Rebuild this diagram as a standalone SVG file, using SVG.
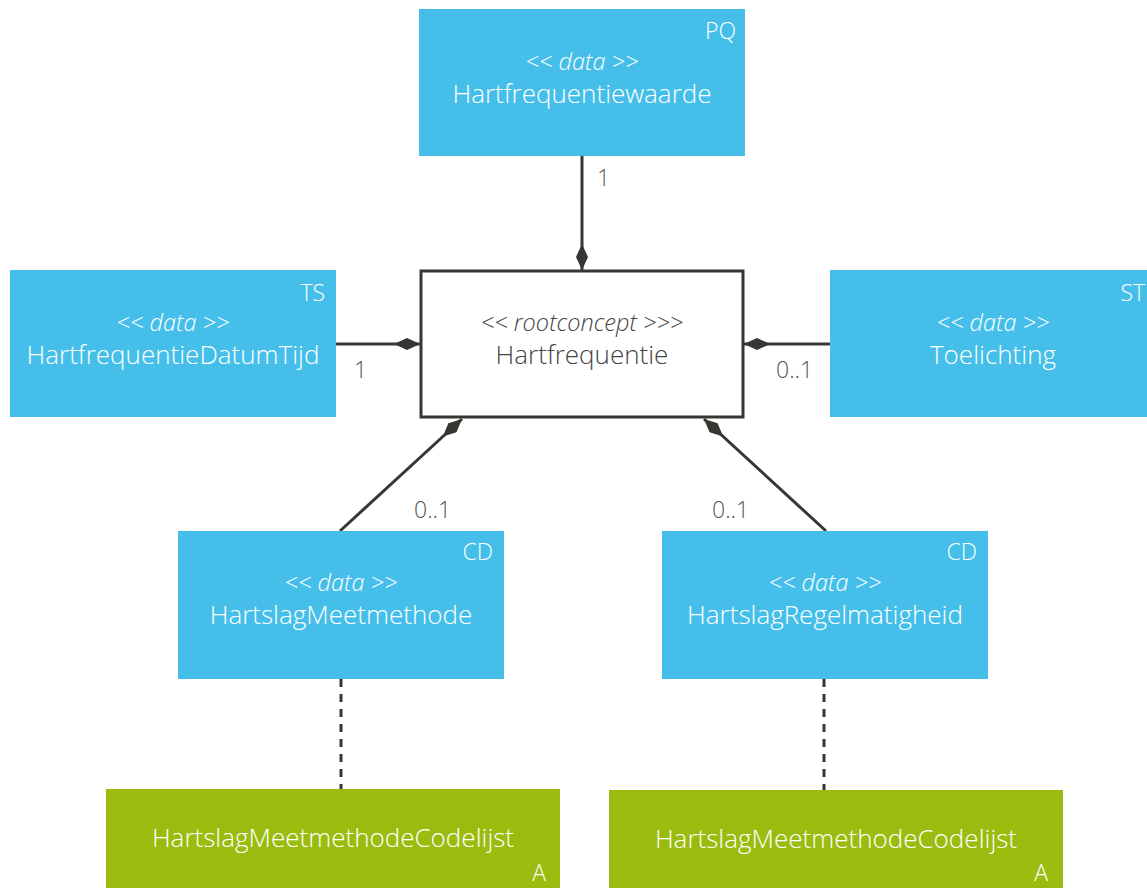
<svg xmlns="http://www.w3.org/2000/svg" width="1147" height="888" viewBox="0 0 1147 888">
  <style>
    .data { fill: #45BFE9; }
    .code { fill: #9ABC0E; }
    .root { fill: #ffffff; stroke: #363632; stroke-width: 3; }
    text { font-family: "Open Sans", "Lato", "Liberation Sans", sans-serif; font-weight: 300; }
    .st { font-size: 23.5px; font-style: italic; text-anchor: middle; }
    .nm { font-size: 26px; text-anchor: middle; }
    .tag { font-size: 23px; text-anchor: end; }
    .w { fill: #ffffff; }
    .d { fill: #444444; }
    .mult { font-size: 23px; fill: #555555; }
    .assoc { stroke: #363632; stroke-width: 3; fill: none; marker-start: url(#diamond); }
    .dep { stroke: #363632; stroke-width: 3; fill: none; stroke-dasharray: 8 7; }
  </style>
  <defs>
    <marker id="diamond" markerUnits="userSpaceOnUse" viewBox="0 0 26 12" refX="0" refY="6" markerWidth="26" markerHeight="12" orient="auto">
      <path d="M0,6 L13,0 L26,6 L13,12 Z" fill="#363632"/>
    </marker>
  </defs>

  <!-- connectors -->
  <g id="connectors">
    <path class="assoc" d="M582,270 L582,156"/>
    <path class="assoc" d="M420,344 L336,344"/>
    <path class="assoc" d="M744,344 L830,344"/>
    <path class="assoc" d="M462,419 L340,531"/>
    <path class="assoc" d="M704,419 L826,531"/>
    <path class="dep" d="M341,679 L341,789"/>
    <path class="dep" d="M824,679 L824,790"/>
    <text class="mult" x="597" y="186">1</text>
    <text class="mult" x="354" y="378">1</text>
    <text class="mult" x="776" y="378">0..1</text>
    <text class="mult" x="414" y="518">0..1</text>
    <text class="mult" x="712" y="518">0..1</text>
  </g>

  <!-- Hartfrequentiewaarde -->
  <g id="node-hartfrequentiewaarde">
    <rect class="data" x="419" y="9" width="326" height="147"/>
    <text class="tag w" x="736" y="39">PQ</text>
    <text class="st w" x="582" y="70">&lt;&lt; data &gt;&gt;</text>
    <text class="nm w" x="582" y="103">Hartfrequentiewaarde</text>
  </g>

  <!-- Hartfrequentie (root) -->
  <g id="node-hartfrequentie">
    <rect class="root" x="421" y="271" width="322" height="146"/>
    <text class="st d" x="582" y="331">&lt;&lt; rootconcept &gt;&gt;&gt;</text>
    <text class="nm d" x="582" y="364">Hartfrequentie</text>
  </g>

  <!-- HartfrequentieDatumTijd -->
  <g id="node-datumtijd">
    <rect class="data" x="10" y="270" width="326" height="147"/>
    <text class="tag w" x="325" y="301">TS</text>
    <text class="st w" x="173" y="331">&lt;&lt; data &gt;&gt;</text>
    <text class="nm w" x="173" y="364">HartfrequentieDatumTijd</text>
  </g>

  <!-- Toelichting -->
  <g id="node-toelichting">
    <rect class="data" x="830" y="270" width="326" height="147"/>
    <text class="tag w" x="1145" y="301">ST</text>
    <text class="st w" x="993" y="331">&lt;&lt; data &gt;&gt;</text>
    <text class="nm w" x="993" y="364">Toelichting</text>
  </g>

  <!-- HartslagMeetmethode -->
  <g id="node-meetmethode">
    <rect class="data" x="178" y="531" width="326" height="148"/>
    <text class="tag w" x="493" y="560">CD</text>
    <text class="st w" x="341" y="591">&lt;&lt; data &gt;&gt;</text>
    <text class="nm w" x="341" y="624">HartslagMeetmethode</text>
  </g>

  <!-- HartslagRegelmatigheid -->
  <g id="node-regelmatigheid">
    <rect class="data" x="662" y="531" width="326" height="148"/>
    <text class="tag w" x="977" y="560">CD</text>
    <text class="st w" x="825" y="591">&lt;&lt; data &gt;&gt;</text>
    <text class="nm w" x="825" y="624">HartslagRegelmatigheid</text>
  </g>

  <!-- HartslagMeetmethodeCodelijst (left) -->
  <g id="node-codelijst-1">
    <rect class="code" x="106" y="789" width="454" height="99"/>
    <text class="nm w" x="333" y="847">HartslagMeetmethodeCodelijst</text>
    <text class="tag w" x="546" y="881">A</text>
  </g>

  <!-- HartslagMeetmethodeCodelijst (right) -->
  <g id="node-codelijst-2">
    <rect class="code" x="609" y="790" width="454" height="98"/>
    <text class="nm w" x="836" y="848">HartslagMeetmethodeCodelijst</text>
    <text class="tag w" x="1048" y="881">A</text>
  </g>
</svg>
